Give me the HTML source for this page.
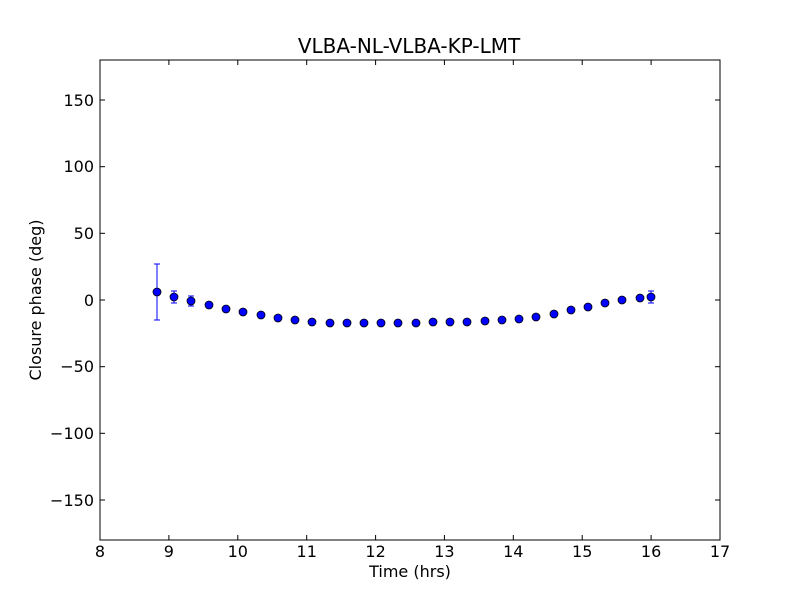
<!DOCTYPE html>
<html><head><meta charset="utf-8"><style>
body{margin:0;background:#fff;}
svg text{font-family:"DejaVu Sans","Liberation Sans",sans-serif;fill:#000;}
</style></head><body>
<svg width="800" height="600" xmlns="http://www.w3.org/2000/svg">
<rect width="800" height="600" fill="#fff"/>
<text x="409" y="53" font-size="20" text-anchor="middle">VLBA-NL-VLBA-KP-LMT</text>
<g stroke="#000" stroke-width="1">
<line x1="100" y1="540" x2="100" y2="535"/><line x1="100" y1="60" x2="100" y2="65"/>
<line x1="168.9" y1="540" x2="168.9" y2="535"/><line x1="168.9" y1="60" x2="168.9" y2="65"/>
<line x1="237.8" y1="540" x2="237.8" y2="535"/><line x1="237.8" y1="60" x2="237.8" y2="65"/>
<line x1="306.7" y1="540" x2="306.7" y2="535"/><line x1="306.7" y1="60" x2="306.7" y2="65"/>
<line x1="375.6" y1="540" x2="375.6" y2="535"/><line x1="375.6" y1="60" x2="375.6" y2="65"/>
<line x1="444.4" y1="540" x2="444.4" y2="535"/><line x1="444.4" y1="60" x2="444.4" y2="65"/>
<line x1="513.3" y1="540" x2="513.3" y2="535"/><line x1="513.3" y1="60" x2="513.3" y2="65"/>
<line x1="582.2" y1="540" x2="582.2" y2="535"/><line x1="582.2" y1="60" x2="582.2" y2="65"/>
<line x1="651.1" y1="540" x2="651.1" y2="535"/><line x1="651.1" y1="60" x2="651.1" y2="65"/>
<line x1="100" y1="100" x2="105" y2="100"/><line x1="720" y1="100" x2="715" y2="100"/>
<line x1="100" y1="166.7" x2="105" y2="166.7"/><line x1="720" y1="166.7" x2="715" y2="166.7"/>
<line x1="100" y1="233.3" x2="105" y2="233.3"/><line x1="720" y1="233.3" x2="715" y2="233.3"/>
<line x1="100" y1="300" x2="105" y2="300"/><line x1="720" y1="300" x2="715" y2="300"/>
<line x1="100" y1="366.7" x2="105" y2="366.7"/><line x1="720" y1="366.7" x2="715" y2="366.7"/>
<line x1="100" y1="433.3" x2="105" y2="433.3"/><line x1="720" y1="433.3" x2="715" y2="433.3"/>
<line x1="100" y1="500" x2="105" y2="500"/><line x1="720" y1="500" x2="715" y2="500"/>
</g>
<g font-size="16" text-anchor="middle">
<text x="100" y="557">8</text><text x="168.9" y="557">9</text><text x="237.8" y="557">10</text>
<text x="306.7" y="557">11</text><text x="375.6" y="557">12</text><text x="444.4" y="557">13</text>
<text x="513.3" y="557">14</text><text x="582.2" y="557">15</text><text x="651.1" y="557">16</text>
<text x="720" y="557">17</text>
</g>
<g font-size="16" text-anchor="end">
<text x="94" y="106">150</text><text x="94" y="172">100</text><text x="94" y="239">50</text>
<text x="94" y="306">0</text><text x="94" y="372">−50</text><text x="94" y="439">−100</text>
<text x="94" y="506">−150</text>
</g>
<text x="410" y="577" font-size="16" text-anchor="middle">Time (hrs)</text>
<text transform="translate(41,300) rotate(-90)" font-size="16" text-anchor="middle">Closure phase (deg)</text>
<g stroke="#0000ff" stroke-width="1">
<line x1="157" y1="264" x2="157" y2="320"/><line x1="154" y1="264" x2="160" y2="264"/><line x1="154" y1="320" x2="160" y2="320"/>
<line x1="174" y1="291" x2="174" y2="303"/><line x1="171" y1="291" x2="177" y2="291"/><line x1="171" y1="303" x2="177" y2="303"/>
<line x1="191" y1="296" x2="191" y2="306"/><line x1="188" y1="296" x2="194" y2="296"/><line x1="188" y1="306" x2="194" y2="306"/>
<line x1="651" y1="291" x2="651" y2="303"/><line x1="648" y1="291" x2="654" y2="291"/><line x1="648" y1="303" x2="654" y2="303"/>
</g>
<g fill="#0000ff" stroke="#000" stroke-width="0.8">
<circle cx="157" cy="292" r="4"/><circle cx="174" cy="297" r="4"/><circle cx="191" cy="301" r="4"/>
<circle cx="209" cy="305" r="4"/><circle cx="226" cy="309" r="4"/><circle cx="243" cy="312" r="4"/>
<circle cx="261" cy="315" r="4"/><circle cx="278" cy="318" r="4"/><circle cx="295" cy="320" r="4"/>
<circle cx="312" cy="322" r="4"/><circle cx="330" cy="323" r="4"/><circle cx="347" cy="323" r="4"/>
<circle cx="364" cy="323" r="4"/><circle cx="381" cy="323" r="4"/><circle cx="398" cy="323" r="4"/>
<circle cx="416" cy="323" r="4"/><circle cx="433" cy="322" r="4"/><circle cx="450" cy="322" r="4"/>
<circle cx="467" cy="322" r="4"/><circle cx="485" cy="321" r="4"/><circle cx="502" cy="320" r="4"/>
<circle cx="519" cy="319" r="4"/><circle cx="536" cy="317" r="4"/><circle cx="554" cy="314" r="4"/>
<circle cx="571" cy="310" r="4"/><circle cx="588" cy="307" r="4"/><circle cx="605" cy="303" r="4"/>
<circle cx="622" cy="300" r="4"/><circle cx="640" cy="298" r="4"/><circle cx="651" cy="297" r="4"/>
</g>
<rect x="100" y="60" width="620" height="480" fill="none" stroke="#000" stroke-width="1"/>
</svg>
</body></html>
